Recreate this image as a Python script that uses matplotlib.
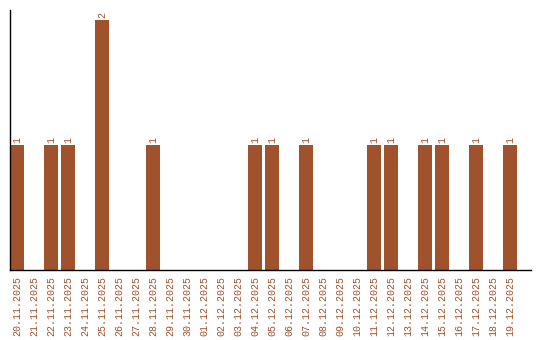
import matplotlib
matplotlib.use("Agg")
import matplotlib.pyplot as plt

dates = ["20.11.2025", "21.11.2025", "22.11.2025", "23.11.2025", "24.11.2025",
         "25.11.2025", "26.11.2025", "27.11.2025", "28.11.2025", "29.11.2025",
         "30.11.2025", "01.12.2025", "02.12.2025", "03.12.2025", "04.12.2025",
         "05.12.2025", "06.12.2025", "07.12.2025", "08.12.2025", "09.12.2025",
         "10.12.2025", "11.12.2025", "12.12.2025", "13.12.2025", "14.12.2025",
         "15.12.2025", "16.12.2025", "17.12.2025", "18.12.2025", "19.12.2025"]
values = [1, 0, 1, 1, 0, 2, 0, 0, 1, 0,
          0, 0, 0, 0, 1, 1, 0, 1, 0, 0,
          0, 1, 1, 0, 1, 1, 0, 1, 0, 1]

color = "#A0522D"
font = "Liberation Mono"
fig = plt.figure(figsize=(5.4, 3.4), dpi=100)
ax = fig.add_axes([10/540, 70/340, 521/540, 260/340])
x = list(range(len(dates)))
ax.bar(x, values, width=0.82, color=color)
for xi, v in zip(x, values):
    if v > 0:
        ax.text(xi, v + 0.02, str(v), rotation=90, ha="center", va="bottom",
                color=color, family=font, fontsize=7.2)
ax.set_xlim(-0.41, 30.24)
ax.set_ylim(0, 2.08)
ax.set_xticks(x)
ax.set_xticklabels(dates, rotation=90, color=color, family=font, fontsize=7.2)
ax.tick_params(axis="x", length=0, pad=4)
ax.set_yticks([])
for s in ["top", "right"]:
    ax.spines[s].set_visible(False)
ax.spines["left"].set_linewidth(1)
ax.spines["bottom"].set_linewidth(1)
fig.savefig("out.png", dpi=100)
